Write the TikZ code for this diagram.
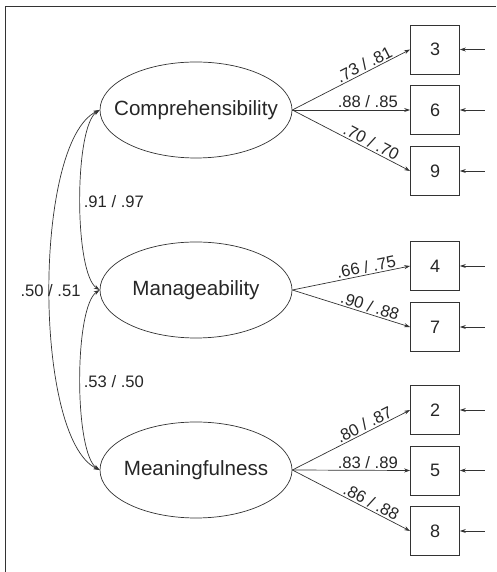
\documentclass[tikz,border=0pt]{standalone}
\usepackage{fontspec}
\setmainfont{Liberation Sans}
\usetikzlibrary{arrows.meta,shapes.geometric}
\begin{document}
\begin{tikzpicture}[x=1pt,y=1pt,
  line width=0.7pt, draw={black!80},
  latent/.style={draw, ellipse, minimum width=192pt, minimum height=96pt, inner sep=0pt,
     font=\fontsize{20.6}{24}\selectfont, text=black!85},
  obs/.style={draw, rectangle, minimum width=49pt, minimum height=49pt, inner sep=0pt,
     font=\fontsize{18}{22}\selectfont, text=black!85},
  load/.style={-{Stealth[length=6pt,width=4pt]}},
  cov/.style={{Stealth[length=6pt,width=4pt]}-{Stealth[length=6pt,width=4pt]}},
  coef/.style={font=\fontsize{16.6}{20}\selectfont, text=black!85, inner sep=1.5pt},
  lbl/.style={pos=0.64, above, sloped, coef}]
\useasboundingbox (0,0) rectangle (496,572);
\draw[line width=1pt] (5,0) -- (5,565) -- (496,565);
% latent variables
\node[latent] (C) at (196,462) {\makebox[0pt]{Comprehensibility}};
\node[latent] (M) at (196,282) {\makebox[0pt]{Manageability}};
\node[latent] (F) at (196,102) {\makebox[0pt]{Meaningfulness}};
% observed items
\node[obs] (i3) at (435,522.5) {3};
\node[obs] (i6) at (435,462) {6};
\node[obs] (i9) at (435,401) {9};
\node[obs] (i4) at (435,306) {4};
\node[obs] (i7) at (435,245) {7};
\node[obs] (i2) at (435,162) {2};
\node[obs] (i5) at (435,101.5) {5};
\node[obs] (i8) at (435,41) {8};
% error terms
\foreach \n in {3,6,9,4,7,2,5,8}{
  \coordinate (e\n) at ([xshift=25pt]i\n.east);
  \draw[load] (e\n) -- (i\n.east);
}
% loadings
\draw[load] (C.east) -- (i3.west) node[lbl] {.73 / .81};
\draw[load] (C.east) -- (i6.west) node[lbl] {.88 / .85};
\draw[load] (C.east) -- (i9.west) node[lbl] {.70 / .70};
\draw[load] (M.east) -- (i4.west) node[lbl] {.66 / .75};
\draw[load] (M.east) -- (i7.west) node[lbl] {.90 / .88};
\draw[load] (F.east) -- (i2.west) node[lbl] {.80 / .87};
\draw[load] (F.east) -- (i5.west) node[lbl] {.83 / .89};
\draw[load] (F.east) -- (i8.west) node[lbl] {.86 / .88};
% covariances
\draw[cov] (C.west) .. controls (74,445) and (74,299) .. (M.west);
\draw[cov] (M.west) .. controls (74,265) and (74,119) .. (F.west);
\draw[cov] (C.west) .. controls (33,430) and (33,134) .. (F.west);
\node[coef, anchor=west] (r1) at (82,370) {.91 / .97};
\node[coef, anchor=west] (r2) at (82,190) {.53 / .50};
\node[coef] (r3) at (50.5,281) {.50 / .51};
\end{tikzpicture}
\end{document}
